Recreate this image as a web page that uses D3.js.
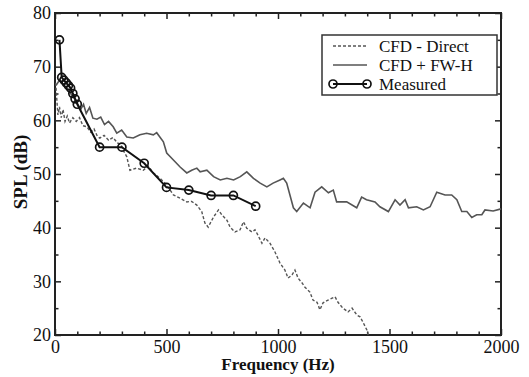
<!DOCTYPE html>
<html>
<head>
<meta charset="utf-8">
<script src="https://cdn.jsdelivr.net/npm/d3@7"></script>
<style>
  body { margin: 0; background: #fff; }
  svg { display: block; }
  text { font-family: "Liberation Serif", "Times New Roman", serif; fill: #111; }
</style>
</head>
<body>
<svg width="529" height="377"></svg>
<script>
// [frequency (Hz), SPL (dB)]
const directData = [
  [3, 67], [8, 64], [13, 61], [20, 62.5], [28, 60.5], [36, 62], [45, 59.8], [55, 60.8],
  [65, 59.5], [80, 60.5], [95, 59.8], [110, 60.5], [125, 59], [143, 58.8], [160, 57.8],
  [175, 58.4], [190, 57], [201, 56.7], [220, 57.2], [240, 56.3], [260, 56.8], [280, 55.8],
  [296, 55.5], [305, 54.5], [322, 53.2], [336, 50.7], [366, 51.1], [396, 50.7], [418, 51.5],
  [441, 50.2], [471, 49.2], [500, 48], [516, 47], [531, 46.1], [561, 45.5], [591, 44.8],
  [613, 44.9], [636, 44.2], [658, 43], [672, 40.9], [687, 40.1], [711, 42], [733, 43.3],
  [748, 42.4], [771, 41.4], [785, 40.1], [807, 39.2], [830, 39.6], [845, 41.1], [860, 39.9],
  [883, 39.2], [897, 39.6], [910, 38.6], [928, 37.1], [942, 38.1], [964, 37.1], [986, 35.5],
  [1009, 33.4], [1031, 32.1], [1045, 30.6], [1063, 31.2], [1076, 32.1], [1090, 30.6],
  [1108, 29.7], [1121, 28.9], [1143, 28], [1157, 26.5], [1175, 26.1], [1188, 24.7],
  [1202, 26], [1224, 26.5], [1256, 27.1], [1269, 26.1], [1291, 25], [1314, 24.3],
  [1332, 25], [1354, 23.7], [1368, 23.4], [1381, 22.4], [1399, 20.9], [1404, 20]
];

const fwhData = [
  [5, 66.5], [20, 67.5], [40, 66.5], [60, 65.5], [80, 64.5], [100, 63.2], [115, 62],
  [128, 63], [140, 61.3], [155, 62.4], [170, 60.4], [188, 60.2], [205, 60.6], [222, 59.2],
  [240, 59.8], [261, 58.8], [277, 57.6], [299, 58.2], [322, 56.9], [351, 56.7], [381, 57.3],
  [411, 57.6], [441, 57.3], [456, 57.7], [486, 56], [501, 53.9], [531, 52.6], [561, 51.3],
  [591, 50.2], [613, 50.7], [636, 51.1], [651, 50.4], [681, 50.7], [711, 49.5], [741, 48.9],
  [771, 49.2], [801, 48.9], [831, 49.5], [860, 50.4], [890, 49.2], [920, 48.3], [950, 47.6],
  [978, 48.3], [1009, 48.9], [1024, 49.2], [1039, 48.3], [1069, 43.7], [1084, 43],
  [1114, 44.6], [1144, 43.7], [1166, 46.6], [1196, 47.6], [1226, 46.5], [1248, 47],
  [1263, 44.8], [1308, 44.8], [1353, 43.7], [1375, 45.7], [1397, 45.2], [1435, 44.8],
  [1457, 43.9], [1495, 43], [1525, 45.2], [1547, 44.2], [1570, 45.2], [1585, 43.7],
  [1622, 43.9], [1652, 43.3], [1682, 43.9], [1712, 46.6], [1749, 46.1], [1779, 46.1],
  [1802, 45.2], [1824, 43], [1847, 43], [1869, 41.9], [1891, 42.4], [1914, 42.4],
  [1928, 43.3], [1965, 43.1], [2000, 43.5]
];

const measuredData = [
  [20, 75], [30, 68], [40, 67.5], [50, 67], [60, 66.5], [70, 66], [80, 65], [90, 64],
  [100, 63], [200, 55], [300, 55], [400, 52], [500, 47.5], [600, 47], [700, 46],
  [800, 46], [900, 44]
];

const xTicks = [0, 500, 1000, 1500, 2000];
const yTicks = [20, 30, 40, 50, 60, 70, 80];
const legendLabels = ['CFD - Direct', 'CFD + FW-H', 'Measured'];

const svg = d3.select('svg');
const margin = { top: 13, right: 28, bottom: 42, left: 55 };
const width = +svg.attr('width') - margin.left - margin.right;
const height = +svg.attr('height') - margin.top - margin.bottom;
const chart = svg.append('g')
  .attr('transform', `translate(${margin.left}, ${margin.top})`);

const xScale = d3.scaleLinear().domain([0, 2000]).range([0, width]);
const yScale = d3.scaleLinear().domain([20, 80]).range([height, 0]);

const xMinor = d3.range(0, 2001, 100).filter(d => d % 500 !== 0);
const yMinor = d3.range(20, 81, 5).filter(d => d % 10 !== 0);

// axes: ticks point inward on all four sides
function styleAxis(g) {
  g.select('.domain').remove();
  g.selectAll('line').attr('stroke', '#222').attr('stroke-width', 1.5);
  g.selectAll('text').style('font-size', '18px').attr('fill', '#111');
}

chart.append('g')
  .attr('transform', `translate(0, ${height})`)
  .call(d3.axisBottom(xScale).tickValues(xTicks).tickSize(-6).tickPadding(5).tickFormat(d3.format('d')))
  .call(styleAxis);
chart.append('g')
  .attr('transform', `translate(0, ${height})`)
  .call(d3.axisBottom(xScale).tickValues(xMinor).tickSize(-3.5).tickFormat(''))
  .call(styleAxis);
chart.append('g')
  .call(d3.axisTop(xScale).tickValues(xTicks).tickSize(-6).tickFormat(''))
  .call(styleAxis);
chart.append('g')
  .call(d3.axisTop(xScale).tickValues(xMinor).tickSize(-3.5).tickFormat(''))
  .call(styleAxis);

chart.append('g')
  .call(d3.axisLeft(yScale).tickValues(yTicks).tickSize(-6).tickPadding(4))
  .call(styleAxis);
chart.append('g')
  .call(d3.axisLeft(yScale).tickValues(yMinor).tickSize(-3.5).tickFormat(''))
  .call(styleAxis);
chart.append('g')
  .attr('transform', `translate(${width}, 0)`)
  .call(d3.axisRight(yScale).tickValues(yTicks).tickSize(-6).tickFormat(''))
  .call(styleAxis);
chart.append('g')
  .attr('transform', `translate(${width}, 0)`)
  .call(d3.axisRight(yScale).tickValues(yMinor).tickSize(-3.5).tickFormat(''))
  .call(styleAxis);

chart.append('rect')
  .attr('width', width)
  .attr('height', height)
  .attr('fill', 'none')
  .attr('stroke', '#222')
  .attr('stroke-width', 2);

// series
const line = d3.line()
  .x(d => xScale(d[0]))
  .y(d => yScale(d[1]));

chart.append('path')
  .datum(fwhData)
  .attr('d', line)
  .attr('fill', 'none')
  .attr('stroke', '#555')
  .attr('stroke-width', 1.6);

chart.append('path')
  .datum(directData)
  .attr('d', line)
  .attr('fill', 'none')
  .attr('stroke', '#555')
  .attr('stroke-width', 1.4)
  .attr('stroke-dasharray', '3,2');

chart.append('path')
  .datum(measuredData)
  .attr('d', line)
  .attr('fill', 'none')
  .attr('stroke', '#111')
  .attr('stroke-width', 2);

chart.selectAll('.pt')
  .data(measuredData)
  .enter()
  .append('circle')
  .attr('class', 'pt')
  .attr('cx', d => xScale(d[0]))
  .attr('cy', d => yScale(d[1]))
  .attr('r', 4)
  .attr('fill', 'none')
  .attr('stroke', '#111')
  .attr('stroke-width', 1.7);

// axis titles
svg.append('text')
  .attr('x', margin.left + width / 2)
  .attr('y', 370)
  .attr('text-anchor', 'middle')
  .style('font-size', '17px')
  .style('font-weight', 'bold')
  .text('Frequency (Hz)');

svg.append('text')
  .attr('transform', 'translate(27, 172) rotate(-90)')
  .attr('text-anchor', 'middle')
  .style('font-size', '19px')
  .style('font-weight', 'bold')
  .text('SPL (dB)');

// legend
const legend = svg.append('g');
legend.append('rect')
  .attr('x', 322).attr('y', 35)
  .attr('width', 175).attr('height', 60)
  .attr('fill', '#fff')
  .attr('stroke', '#333')
  .attr('stroke-width', 1.5);

const rows = [
  { y: 46, dash: '3,2', color: '#555', w: 1.4, marker: false },
  { y: 65, dash: null, color: '#555', w: 1.6, marker: false },
  { y: 84, dash: null, color: '#111', w: 2, marker: true }
];
rows.forEach((r, i) => {
  legend.append('line')
    .attr('x1', 333).attr('x2', 367)
    .attr('y1', r.y).attr('y2', r.y)
    .attr('stroke', r.color)
    .attr('stroke-width', r.w)
    .attr('stroke-dasharray', r.dash);
  if (r.marker) {
    [333, 367].forEach(cx => {
      legend.append('circle')
        .attr('cx', cx).attr('cy', r.y).attr('r', 4)
        .attr('fill', 'none').attr('stroke', '#111').attr('stroke-width', 1.7);
    });
  }
  legend.append('text')
    .attr('x', 379)
    .attr('y', r.y + 6)
    .style('font-size', '17px')
    .text(legendLabels[i]);
});
</script>
</body>
</html>
